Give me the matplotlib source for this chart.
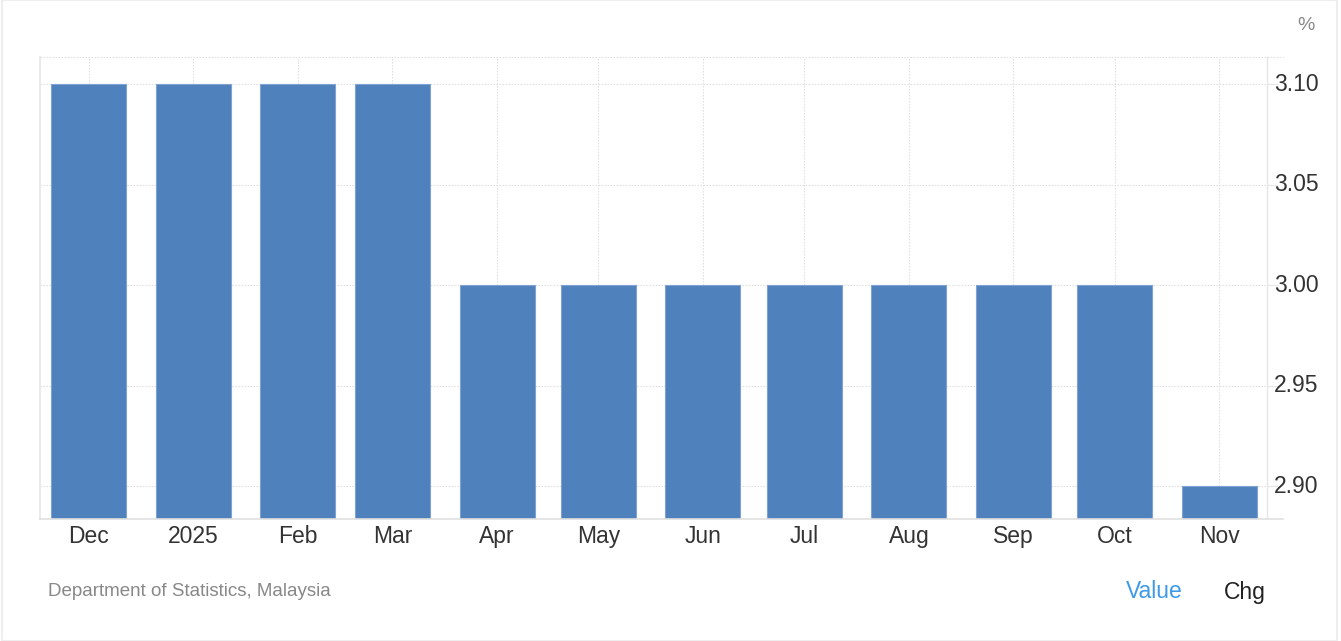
import matplotlib
matplotlib.use("Agg")
import matplotlib.pyplot as plt
import matplotlib.dates as mdates
import numpy as np
import datetime as dt

dates = ["2024-12-01", "2025-01-01", "2025-02-01", "2025-03-01", "2025-04-01", "2025-05-01",
         "2025-06-01", "2025-07-01", "2025-08-01", "2025-09-01", "2025-10-01", "2025-11-01"]
labels = ["Dec", "2025", "Feb", "Mar", "Apr", "May", "Jun", "Jul", "Aug", "Sep", "Oct", "Nov"]
values = [3.10, 3.10, 3.10, 3.10, 3.00, 3.00, 3.00, 3.00, 3.00, 3.00, 3.00, 2.90]
yticks = [2.90, 2.95, 3.00, 3.05, 3.10]

plt.rcParams['font.family'] = ['Liberation Sans', 'DejaVu Sans']

x = [dt.datetime.strptime(d, "%Y-%m-%d") for d in dates]
xn = mdates.date2num(x)

fig = plt.figure(figsize=(13.41, 6.41), dpi=100)
ax = fig.add_axes([40/1341, 1-519/641, (1267-40)/1341, (519-57)/641])

ax.bar(xn, values, width=22.2, color="#4f81bd", edgecolor="#7fa2d2", linewidth=0.8, zorder=3)

ax.set_xlim(xn[0]-14.4, xn[0]+349.1)
ax.set_ylim(2.8836, 3.1136)

ax.set_xticks(xn)
ax.set_xticklabels(labels)
ax.set_yticks(yticks)
ax.set_yticklabels([f"{v:.2f}" for v in yticks])
ax.yaxis.tick_right()
ax.tick_params(axis='x', length=0, pad=4, labelsize=16.5, labelcolor="#333333")
ax.tick_params(axis='y', length=8, width=0.8, color="#e6e6e6", pad=-3, labelsize=16.5, labelcolor="#333333")
for lbl in ax.get_yticklabels():
    lbl.set_verticalalignment('center')

ax.grid(True, which='major', axis='both', linestyle=(0, (1.2, 1.5)), color="#dcdcdc", linewidth=0.8, zorder=0)

for s in ['top', 'right', 'bottom', 'left']:
    ax.spines[s].set_visible(False)
ax.spines['left'].set_visible(True)
ax.spines['left'].set_color("#e6e6e6")
ax.spines['left'].set_linewidth(1.2)
ax.spines['right'].set_visible(True)
ax.spines['right'].set_color("#e6e6e6")
ax.spines['right'].set_linewidth(1.0)

ext = (1283-40)/(1267-40)
ax.plot([0, ext], [0, 0], transform=ax.transAxes, color="#e0e0e0", lw=1.2, clip_on=False, zorder=4)
ax.plot([0, ext], [1, 1], transform=ax.transAxes, color="#dcdcdc", lw=0.8,
        linestyle=(0, (1.2, 1.5)), clip_on=False, zorder=4)

fig.text(1306/1341, 1-25/641, "%", fontsize=14, color="#888888", ha="center", va="center")
fig.text(48/1341, 1-592/641, "Department of Statistics, Malaysia", fontsize=13.5, color="#888888",
         ha="left", va="center")
fig.text(1154/1341, 1-592/641, "Value", fontsize=16.5, color="#3d9ae8", ha="center", va="center")
fig.text(1245/1341, 1-592/641, "Chg", fontsize=16.5, color="#222222", ha="center", va="center")

fig.patches.append(plt.Rectangle((1.5/1341, 0), (1337-1.5)/1341, 1.0, transform=fig.transFigure,
                                 fill=False, edgecolor="#eeeeee", lw=1.5))

fig.savefig("out.png", dpi=100)
